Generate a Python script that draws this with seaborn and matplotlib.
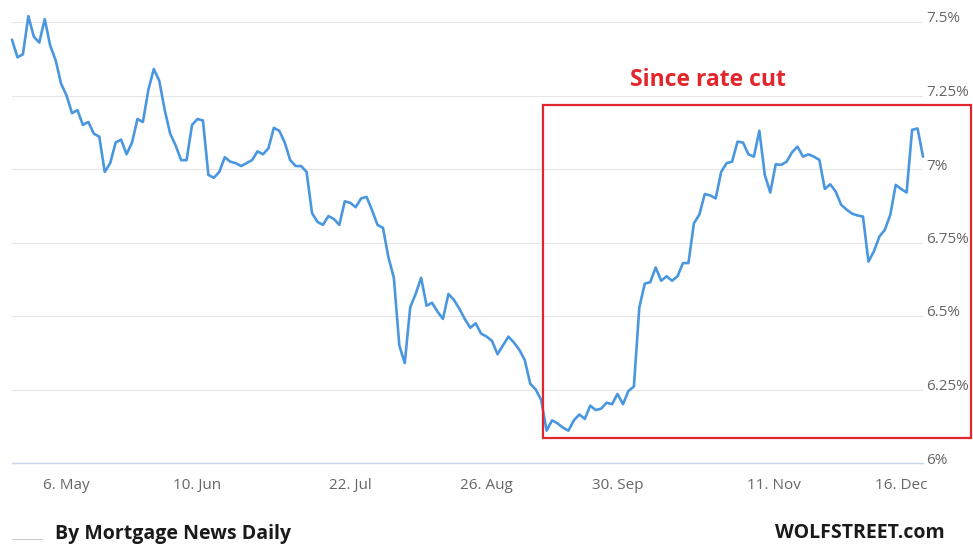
import numpy as np
import pandas as pd
import seaborn as sns
import matplotlib.pyplot as plt
from matplotlib.patches import Rectangle
from matplotlib.lines import Line2D
from matplotlib.transforms import ScaledTranslation

# trading days shown on the chart (bond-market holidays have no point)
start_day = "2024-04-22"
end_day = "2024-12-20"
holidays = ["2024-05-27", "2024-06-19", "2024-07-04", "2024-09-02",
            "2024-10-14", "2024-11-11", "2024-11-28"]

# 30-year fixed rate, %, one value per trading day
rate = [
    7.44, 7.38, 7.39, 7.52, 7.45, 7.43, 7.51, 7.42, 7.37, 7.29,
    7.25, 7.19, 7.20, 7.15, 7.16, 7.12, 7.11, 6.99, 7.02, 7.09,
    7.10, 7.05, 7.09, 7.17, 7.16, 7.27, 7.34, 7.30, 7.20, 7.12,
    7.08, 7.03, 7.03, 7.15, 7.17, 7.165, 6.98, 6.97, 6.99, 7.04,
    7.025, 7.02, 7.01, 7.02, 7.03, 7.06, 7.05, 7.07, 7.14, 7.13,
    7.09, 7.03, 7.01, 7.01, 6.99, 6.85, 6.82, 6.81, 6.84, 6.83,
    6.81, 6.89, 6.885, 6.87, 6.90, 6.905, 6.86, 6.81, 6.80, 6.70,
    6.63, 6.40, 6.34, 6.53, 6.575, 6.63, 6.535, 6.545, 6.515, 6.49,
    6.575, 6.555, 6.525, 6.49, 6.46, 6.475, 6.44, 6.43, 6.415, 6.37,
    6.40, 6.43, 6.41, 6.385, 6.35, 6.27, 6.25, 6.215, 6.11, 6.145,
    6.135, 6.12, 6.11, 6.145, 6.165, 6.15, 6.195, 6.18, 6.185, 6.205,
    6.20, 6.235, 6.20, 6.245, 6.26, 6.53, 6.61, 6.615, 6.665, 6.62,
    6.635, 6.62, 6.635, 6.68, 6.68, 6.815, 6.845, 6.915, 6.91, 6.90,
    6.99, 7.02, 7.025, 7.093, 7.09, 7.05, 7.042, 7.13, 6.98, 6.92,
    7.016, 7.014, 7.025, 7.057, 7.076, 7.042, 7.05, 7.042, 7.031, 6.932,
    6.948, 6.923, 6.878, 6.862, 6.848, 6.842, 6.838, 6.685, 6.72, 6.77,
    6.793, 6.844, 6.946, 6.932, 6.92, 7.133, 7.138, 7.042,
]

tick_dates = ["2024-05-06", "2024-06-10", "2024-07-22", "2024-08-26",
              "2024-09-30", "2024-11-11", "2024-12-16"]
y_ticks = [6, 6.25, 6.5, 6.75, 7, 7.25, 7.5]

days = pd.bdate_range(start_day, end_day)
days = days[~days.isin(pd.to_datetime(holidays))]
df = pd.DataFrame({"date": days, "pos": np.arange(len(days)), "rate": rate})

sns.set_style("white")
plt.rcParams['font.family'] = ['Open Sans', 'DejaVu Sans']

fig = plt.figure(figsize=(9.73, 5.49), dpi=100)
ax = fig.add_axes([12 / 973, 1 - 463 / 549, (923 - 12) / 973, (463 - 22) / 549])

sns.lineplot(data=df, x="pos", y="rate", ax=ax, color="#4a97e0", linewidth=1.9)
ax.lines[0].set_clip_on(False)

ax.set_xlim(0, len(days) - 1)
ax.set_ylim(6, 7.5)
ax.set_xlabel("")
ax.set_ylabel("")

# ordinal axis: ticks sit where the date falls between trading days
tk = pd.to_datetime(tick_dates)
tick_pos = np.interp(tk.asi8, df["date"].values.astype("int64"), df["pos"].values)
ax.set_xticks(tick_pos)
ax.set_xticklabels([f"{d.day}. {d.strftime('%b')}" for d in tk])
ax.tick_params(axis="x", length=5, width=0.8, color="#ccd6eb", pad=6,
               labelsize=11, labelcolor="#666666", direction="out")

ax.yaxis.tick_right()
ax.set_yticks(y_ticks)
ax.set_yticklabels([f"{v:g}%" for v in y_ticks])
ax.tick_params(axis="y", length=0, pad=2, labelsize=11, labelcolor="#666666")
shift = ScaledTranslation(0, 5 / 100, fig.dpi_scale_trans)
for lab in ax.get_yticklabels():
    lab.set_transform(lab.get_transform() + shift)

ax.grid(axis="y", color="#e6e6e6", linewidth=0.8)
ax.grid(axis="x", visible=False)
for s in ["top", "left", "right"]:
    ax.spines[s].set_visible(False)
ax.spines["bottom"].set_color("#ccd6eb")
ax.spines["bottom"].set_linewidth(1)

# annotation box and label
fig.patches.append(Rectangle((543 / 973, 1 - 438 / 549), (971 - 543) / 973, (438 - 105) / 549,
                             transform=fig.transFigure, fill=False,
                             edgecolor="#e3262e", linewidth=1.6))
fig.text(708 / 973, 1 - 80 / 549, "Since rate cut", color="#e3262e",
         fontsize=16.5, fontweight="bold", ha="center", va="center")

# footer
fig.lines.append(Line2D([12 / 973, 42 / 973], [1 - 539 / 549, 1 - 539 / 549],
                        transform=fig.transFigure, color="#cccccc", linewidth=0.8))
fig.text(55 / 973, 1 - 534 / 549, "By Mortgage News Daily", color="#1a1a1a",
         fontsize=14, fontweight="bold", ha="left", va="center")
fig.text(945 / 973, 1 - 533 / 549, "WOLFSTREET.com", color="#1a1a1a",
         fontsize=14, fontweight="bold", ha="right", va="center")

fig.savefig("out.png", dpi=100)
